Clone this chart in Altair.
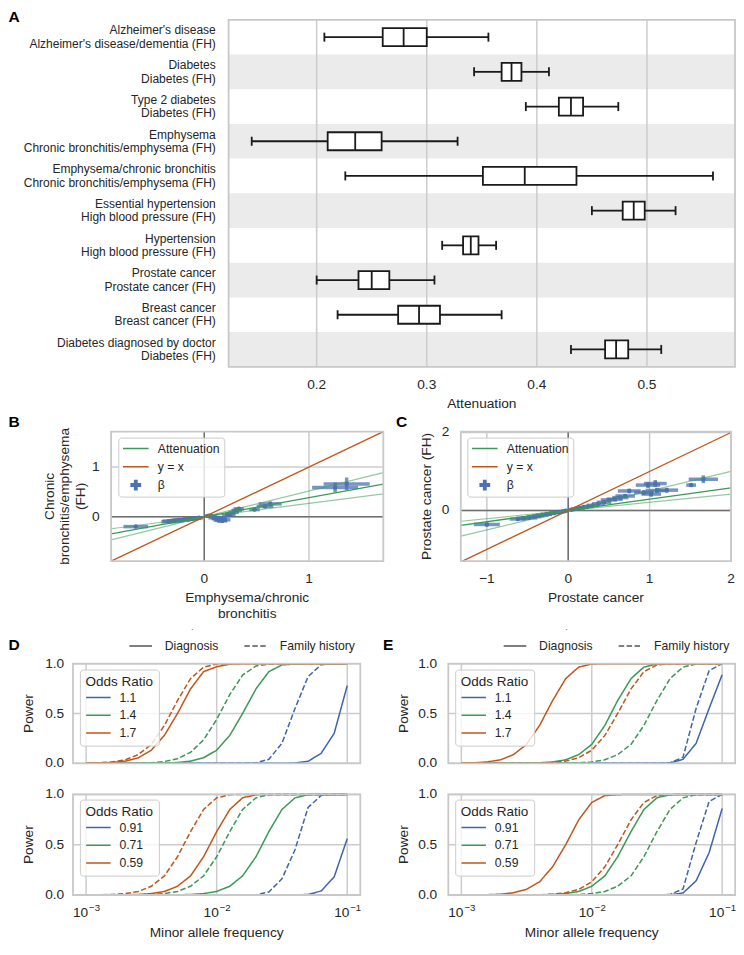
import altair as alt
import pandas as pd

# ===================== DATA =====================
# Panel A: attenuation per trait pair (whisker low, Q1, median, Q3, whisker high)
diag_names = ["Alzheimer's disease", "Diabetes", "Type 2 diabetes", "Emphysema",
              "Emphysema/chronic bronchitis", "Essential hypertension", "Hypertension",
              "Prostate cancer", "Breast cancer", "Diabetes diagnosed by doctor"]
fh_names = ["Alzheimer's disease/dementia (FH)", "Diabetes (FH)", "Diabetes (FH)",
            "Chronic bronchitis/emphysema (FH)", "Chronic bronchitis/emphysema (FH)",
            "High blood pressure (FH)", "High blood pressure (FH)", "Prostate cancer (FH)",
            "Breast cancer (FH)", "Diabetes (FH)"]
att_low = [0.207, 0.343, 0.390, 0.141, 0.226, 0.450, 0.314, 0.200, 0.219, 0.431]
att_q1 = [0.260, 0.368, 0.420, 0.210, 0.351, 0.478, 0.333, 0.238, 0.274, 0.462]
att_med = [0.279, 0.377, 0.431, 0.235, 0.389, 0.488, 0.340, 0.250, 0.293, 0.472]
att_q3 = [0.300, 0.386, 0.442, 0.259, 0.436, 0.498, 0.347, 0.266, 0.312, 0.483]
att_high = [0.356, 0.411, 0.474, 0.328, 0.560, 0.526, 0.363, 0.307, 0.368, 0.513]
att_ticks = [0.2, 0.3, 0.4, 0.5]

# Panel B: Emphysema/chronic bronchitis (x) vs Chronic bronchitis/emphysema (FH) (y)
b_beta_x = [-0.654, -0.34, -0.31, -0.28, -0.25, -0.22, -0.19, -0.15, -0.12, -0.08, -0.05,
            0.04, 0.07, 0.09, 0.12, 0.14, 0.17, 0.20, 0.16, 0.22, 0.25, 0.28, 0.31, 0.33,
            0.48, 0.58, 0.63, 1.25, 1.36]
b_beta_y = [-0.197, -0.10, -0.085, -0.08, -0.07, -0.065, -0.055, -0.05, -0.04, -0.03, -0.02,
            0.02, 0.01, -0.02, -0.04, -0.07, -0.08, -0.06, -0.03, 0.03, 0.05, 0.09, 0.13, 0.16,
            0.145, 0.21, 0.26, 0.59, 0.66]
b_err_x = [0.118, 0.07, 0.09, 0.08, 0.07, 0.08, 0.07, 0.06, 0.06, 0.05, 0.04,
           0.04, 0.05, 0.05, 0.05, 0.05, 0.05, 0.05, 0.05, 0.05, 0.05, 0.05, 0.05, 0.05,
           0.05, 0.08, 0.11, 0.22, 0.22]
b_err_y = [0.03, 0.03, 0.03, 0.03, 0.03, 0.03, 0.03, 0.025, 0.025, 0.02, 0.02,
           0.02, 0.03, 0.04, 0.05, 0.04, 0.04, 0.04, 0.03, 0.03, 0.03, 0.03, 0.04, 0.03,
           0.03, 0.04, 0.05, 0.10, 0.13]
b_slopes = [0.27, 0.385, 0.52]      # lower, median, upper attenuation
b_ticks_x = [0, 1]
b_ticks_y = [0, 1]

# Panel C: Prostate cancer (x) vs Prostate cancer (FH) (y)
c_beta_x = [-1.0, -0.62, -0.55, -0.48, -0.42, -0.37, -0.32, -0.27, -0.22, -0.17, -0.12, -0.07,
            -0.03, 0.04, 0.09, 0.14, 0.19, 0.24, 0.30, 0.37, 0.44, 0.50, 0.57, 0.64, 0.70,
            0.75, 0.98, 1.07, 1.02, 1.09, 1.21, 0.93, 1.51, 1.66]
c_beta_y = [-0.36, -0.22, -0.20, -0.19, -0.16, -0.14, -0.12, -0.10, -0.08, -0.06, -0.045, -0.03,
            -0.01, 0.02, 0.04, 0.06, 0.08, 0.10, 0.13, 0.17, 0.21, 0.27, 0.29, 0.33, 0.37,
            0.50, 0.65, 0.69, 0.42, 0.51, 0.52, 0.46, 0.65, 0.80]
c_err_x = [0.16, 0.10, 0.09, 0.10, 0.09, 0.08, 0.08, 0.07, 0.07, 0.06, 0.05, 0.05,
           0.04, 0.04, 0.05, 0.06, 0.06, 0.07, 0.07, 0.08, 0.09, 0.10, 0.10, 0.10, 0.12,
           0.14, 0.15, 0.14, 0.12, 0.14, 0.14, 0.12, 0.06, 0.18]
c_err_y = [0.05, 0.04, 0.04, 0.04, 0.04, 0.03, 0.03, 0.03, 0.03, 0.03, 0.02, 0.02,
           0.02, 0.02, 0.02, 0.03, 0.03, 0.03, 0.03, 0.04, 0.04, 0.04, 0.04, 0.05, 0.05,
           0.06, 0.08, 0.09, 0.07, 0.07, 0.06, 0.06, 0.05, 0.10]
c_slopes = [0.21, 0.29, 0.50]
c_ticks_x = [-1, 0, 1, 2]
c_ticks_y = [0, 2]

legend_labels = ["Attenuation", "y = x", "\u03b2"]

# Panels D / E: power vs minor allele frequency
maf_grid = [0.001, 0.00126, 0.00158, 0.002, 0.00251, 0.00316, 0.00398, 0.00501, 0.00631,
            0.00794, 0.01, 0.0126, 0.0158, 0.02, 0.0251, 0.0316, 0.0398, 0.0501, 0.0631,
            0.0794, 0.1]
maf_ticks = [0.001, 0.01, 0.1]
maf_tick_base = ["10", "10", "10"]
maf_tick_exp = ["\u22123", "\u22122", "\u22121"]
power_ticks = [0.0, 0.5, 1.0]
or_risk = ["1.1", "1.4", "1.7"]
or_prot = ["0.91", "0.71", "0.59"]
kinds = ["Diagnosis", "Family history"]

# D top (emphysema/chronic bronchitis, risk alleles)
dt_diag_11 = [0, 0, 0, 0, 0, 0, 0, 0, 0, 0, 0, 0, 0, 0, 0, 0, 0.003, 0.02, 0.1, 0.3, 0.78]
dt_fh_11 = [0, 0, 0, 0, 0, 0, 0, 0, 0, 0, 0, 0, 0, 0.005, 0.04, 0.2, 0.55, 0.87, 0.99, 1, 1]
dt_diag_14 = [0, 0, 0, 0, 0, 0.001, 0.003, 0.008, 0.022, 0.056, 0.131, 0.28, 0.5, 0.747, 0.92,
              0.988, 0.997, 1, 1, 1, 1]
dt_fh_14 = [0, 0, 0, 0.001, 0.002, 0.006, 0.018, 0.045, 0.11, 0.235, 0.44, 0.69, 0.885, 0.977,
            0.997, 1, 1, 1, 1, 1, 1]
dt_diag_17 = [0.001, 0.003, 0.008, 0.022, 0.056, 0.131, 0.28, 0.5, 0.747, 0.92, 0.97, 0.995,
              1, 1, 1, 1, 1, 1, 1, 1, 1]
dt_fh_17 = [0.002, 0.005, 0.014, 0.035, 0.087, 0.19, 0.38, 0.63, 0.85, 0.966, 0.997,
            1, 1, 1, 1, 1, 1, 1, 1, 1, 1]
# D bottom (protective alleles)
db_diag_091 = [0, 0, 0, 0, 0, 0, 0, 0, 0, 0, 0, 0, 0, 0, 0, 0, 0.001, 0.005, 0.04, 0.18, 0.56]
db_fh_091 = [0, 0, 0, 0, 0, 0, 0, 0, 0, 0, 0, 0, 0, 0.003, 0.03, 0.16, 0.45, 0.87, 0.99, 1, 1]
db_diag_071 = [0, 0, 0, 0, 0, 0, 0.001, 0.002, 0.005, 0.014, 0.035, 0.087, 0.19, 0.38, 0.63,
               0.85, 0.966, 0.997, 1, 1, 1]
db_fh_071 = [0, 0, 0, 0.001, 0.002, 0.005, 0.014, 0.035, 0.087, 0.19, 0.38, 0.63, 0.85, 0.966,
             0.997, 1, 1, 1, 1, 1, 1]
db_diag_059 = [0, 0, 0.001, 0.002, 0.005, 0.014, 0.035, 0.087, 0.19, 0.38, 0.63, 0.85, 0.966,
               0.997, 1, 1, 1, 1, 1, 1, 1]
db_fh_059 = [0.001, 0.002, 0.005, 0.014, 0.035, 0.087, 0.19, 0.38, 0.63, 0.85, 0.966, 0.997,
             1, 1, 1, 1, 1, 1, 1, 1, 1]
# E top (prostate cancer, risk alleles)
et_diag_11 = [0, 0, 0, 0, 0, 0, 0, 0, 0, 0, 0, 0, 0, 0, 0, 0, 0.003, 0.04, 0.2, 0.55, 0.89]
et_fh_11 = [0, 0, 0, 0, 0, 0, 0, 0, 0, 0, 0, 0, 0, 0, 0, 0, 0.005, 0.06, 0.55, 0.93, 1.0]
et_diag_14 = [0, 0, 0, 0, 0.001, 0.002, 0.005, 0.014, 0.035, 0.087, 0.19, 0.38, 0.63, 0.85,
              0.966, 0.997, 1, 1, 1, 1, 1]
et_fh_14 = [0, 0, 0, 0, 0, 0, 0, 0.001, 0.002, 0.005, 0.014, 0.035, 0.087, 0.19, 0.38, 0.63,
            0.85, 0.966, 0.997, 1, 1]
et_diag_17 = [0.002, 0.005, 0.014, 0.035, 0.087, 0.19, 0.38, 0.63, 0.85, 0.966, 0.997,
              1, 1, 1, 1, 1, 1, 1, 1, 1, 1]
et_fh_17 = [0, 0, 0, 0, 0, 0.001, 0.003, 0.008, 0.022, 0.056, 0.131, 0.28, 0.5, 0.747, 0.92,
            0.988, 0.997, 1, 1, 1, 1]
# E bottom (protective alleles)
eb_diag_091 = [0, 0, 0, 0, 0, 0, 0, 0, 0, 0, 0, 0, 0, 0, 0, 0, 0.002, 0.02, 0.14, 0.42, 0.86]
eb_fh_091 = [0, 0, 0, 0, 0, 0, 0, 0, 0, 0, 0, 0, 0, 0, 0, 0, 0.005, 0.06, 0.52, 0.93, 1.0]
eb_diag_071 = [0, 0, 0, 0, 0, 0.001, 0.002, 0.005, 0.014, 0.035, 0.087, 0.19, 0.38, 0.63, 0.85,
               0.966, 0.997, 1, 1, 1, 1]
eb_fh_071 = [0, 0, 0, 0, 0, 0, 0, 0.001, 0.002, 0.005, 0.014, 0.035, 0.087, 0.19, 0.38, 0.63,
             0.85, 0.966, 0.997, 1, 1]
eb_diag_059 = [0, 0.001, 0.003, 0.008, 0.022, 0.056, 0.131, 0.28, 0.5, 0.747, 0.92, 0.988,
               0.997, 1, 1, 1, 1, 1, 1, 1, 1]
eb_fh_059 = [0, 0, 0, 0, 0, 0.001, 0.003, 0.008, 0.022, 0.056, 0.131, 0.28, 0.5, 0.747, 0.92,
             0.988, 0.997, 1, 1, 1, 1]

# ===================== STYLE / LAYOUT =====================
W, H = 728, 934
FONT = "Liberation Sans"
TXT = "#262626"
GRID = "#cccccc"
FRAME = "#c8c8c8"
ZERO = "#707070"
SHADE = "#ebebeb"
BLUE = "#3f64ae"
GREEN = "#3a9a57"
ORANGE = "#c0561b"
PT_BLUE = "#4c72b0"
BOXC = "#1a1a1a"
FS = 13.7          # tick label / axis title size
LFS = 12.2         # legend label size
ROW_LH = 13.4      # line height of the two-line row labels

GEOM = {
    "A": dict(x=(220.6, 727.0), y=(11.8, 358.8)),
    "B": dict(x=(103.1, 375.3), y=(553.1, 423.7)),
    "C": dict(x=(452.8, 723.0), y=(553.1, 423.7)),
    "Dt": dict(x=(65.0, 352.3), y=(755.3, 655.7)),
    "Db": dict(x=(65.0, 352.3), y=(887.0, 786.4)),
    "Et": dict(x=(440.3, 727.2), y=(755.3, 655.7)),
    "Eb": dict(x=(440.3, 727.2), y=(887.0, 786.4)),
}
A_XDOM = [0.12, 0.58]
A_YDOM = [-0.5, 9.5]
B_DOM = [-0.89, 1.71]
C_XDOM = [-1.32, 2.0]
C_YDOM = [-1.3, 2.02]
MAF_DOM = [0.000794, 0.1259]
POW_DOM = [0.0, 1.0]
BOX_HALF = 0.26
CAP_HALF = 0.13


def lin(dom, rng):
    return alt.Scale(domain=dom, range=list(rng), nice=False, zero=False)


def xticks(vals, xs, ypix, fmt=None, labels=None, size=FS, dx=0, dy=0):
    df = pd.DataFrame({"v": vals})
    if labels is not None:
        df["lab"] = labels
        txt = alt.Text("lab:N")
    else:
        txt = alt.Text("v:Q", format=fmt)
    return alt.Chart(df).mark_text(align="center", baseline="middle", fontSize=size,
                                   color=TXT, dx=dx, dy=dy).encode(
        x=alt.X("v:Q", scale=xs, axis=None), y=alt.value(ypix), text=txt)


def yticks(vals, ys, xpix, fmt):
    df = pd.DataFrame({"v": vals})
    return alt.Chart(df).mark_text(align="right", baseline="middle", fontSize=FS,
                                   color=TXT).encode(
        y=alt.Y("v:Q", scale=ys, axis=None), x=alt.value(xpix),
        text=alt.Text("v:Q", format=fmt))


def title_text(txt, xpix, ypix, angle=0, line_height=None, size=FS, color=TXT):
    # for multi-line text the anchor is the centre of the FIRST line
    kw = dict(align="center", baseline="middle", fontSize=size, color=color, angle=angle,
              lineBreak="\n")
    if line_height is not None:
        kw["lineHeight"] = line_height
    return alt.Chart(pd.DataFrame({"t": [txt]})).mark_text(**kw).encode(
        text="t:N", x=alt.value(xpix), y=alt.value(ypix))


def grid_and_frame(xdom, ydom, xs, ys, gx, gy):
    vl = alt.Chart(pd.DataFrame({"g": gx})).transform_calculate(
        lo=str(ydom[0]), hi=str(ydom[1])
    ).mark_rule(color=GRID, strokeWidth=1.5).encode(
        x=alt.X("g:Q", scale=xs, axis=None), y=alt.Y("lo:Q", scale=ys, axis=None), y2="hi:Q")
    layers = [vl]
    if gy:
        hl = alt.Chart(pd.DataFrame({"g": gy})).transform_calculate(
            lo=str(xdom[0]), hi=str(xdom[1])
        ).mark_rule(color=GRID, strokeWidth=1.5).encode(
            y=alt.Y("g:Q", scale=ys, axis=None), x=alt.X("lo:Q", scale=xs, axis=None), x2="hi:Q")
        layers.append(hl)
    frame = alt.Chart(pd.DataFrame({"x0": [xdom[0]], "x1": [xdom[1]],
                                    "y0": [ydom[0]], "y1": [ydom[1]]})).mark_rect(
        fillOpacity=0, stroke=FRAME, strokeWidth=1.8).encode(
        x=alt.X("x0:Q", scale=xs, axis=None), x2="x1:Q",
        y=alt.Y("y0:Q", scale=ys, axis=None), y2="y1:Q")
    return layers, frame


# ===================== PANEL A =====================
ga = GEOM["A"]
axs = lin(A_XDOM, ga["x"])
ays = lin(A_YDOM, ga["y"])
a_df = pd.DataFrame({"idx": list(range(len(diag_names))), "low": att_low, "q1": att_q1,
                     "med": att_med, "q3": att_q3, "high": att_high,
                     "lab": [d + "\n" + f for d, f in zip(diag_names, fh_names)]})

shade = alt.Chart(a_df).transform_filter("datum.idx % 2 == 1").transform_calculate(
    y0="datum.idx - 0.5", y1="datum.idx + 0.5", x0=str(A_XDOM[0]), x1=str(A_XDOM[1])
).mark_rect(color=SHADE).encode(
    x=alt.X("x0:Q", scale=axs, axis=None), x2="x1:Q",
    y=alt.Y("y0:Q", scale=ays, axis=None), y2="y1:Q")
a_grid, a_frame = grid_and_frame(A_XDOM, A_YDOM, axs, ays, att_ticks, [])
a_base = alt.Chart(a_df)
whisk_lo = a_base.mark_rule(color=BOXC, strokeWidth=1.8).encode(
    x=alt.X("low:Q", scale=axs, axis=None), x2="q1:Q", y=alt.Y("idx:Q", scale=ays, axis=None))
whisk_hi = a_base.mark_rule(color=BOXC, strokeWidth=1.8).encode(
    x=alt.X("q3:Q", scale=axs, axis=None), x2="high:Q", y=alt.Y("idx:Q", scale=ays, axis=None))
boxes = a_base.transform_calculate(
    b0=f"datum.idx - {BOX_HALF}", b1=f"datum.idx + {BOX_HALF}"
).mark_rect(fill="white", stroke=BOXC, strokeWidth=1.8).encode(
    x=alt.X("q1:Q", scale=axs, axis=None), x2="q3:Q",
    y=alt.Y("b0:Q", scale=ays, axis=None), y2="b1:Q")
medians = a_base.transform_calculate(
    b0=f"datum.idx - {BOX_HALF}", b1=f"datum.idx + {BOX_HALF}"
).mark_rule(color=BOXC, strokeWidth=1.8).encode(
    x=alt.X("med:Q", scale=axs, axis=None), y=alt.Y("b0:Q", scale=ays, axis=None), y2="b1:Q")
cap_lo = a_base.transform_calculate(
    c0=f"datum.idx - {CAP_HALF}", c1=f"datum.idx + {CAP_HALF}"
).mark_rule(color=BOXC, strokeWidth=1.8).encode(
    x=alt.X("low:Q", scale=axs, axis=None), y=alt.Y("c0:Q", scale=ays, axis=None), y2="c1:Q")
cap_hi = a_base.transform_calculate(
    c0=f"datum.idx - {CAP_HALF}", c1=f"datum.idx + {CAP_HALF}"
).mark_rule(color=BOXC, strokeWidth=1.8).encode(
    x=alt.X("high:Q", scale=axs, axis=None), y=alt.Y("c0:Q", scale=ays, axis=None), y2="c1:Q")
row_text = a_base.mark_text(align="right", baseline="middle", fontSize=12, lineBreak="\n",
                            lineHeight=ROW_LH, dy=-ROW_LH / 2, color=TXT).encode(
    y=alt.Y("idx:Q", scale=ays, axis=None), x=alt.value(207.8), text="lab:N")
a_xt = xticks(att_ticks, axs, 376.5, fmt=".1f")
a_title = title_text("Attenuation", 473.8, 396.1)
panel_a = alt.layer(shade, *a_grid, whisk_lo, whisk_hi, boxes, medians, cap_lo, cap_hi,
                    a_frame, row_text, a_xt, a_title)

# ===================== PANELS B / C =====================
LINE_PATH = "M-1,-0.06H1V0.06H-1Z"
PLUS_PATH = "M-0.42,-0.15H-0.15V-0.42H0.15V-0.15H0.42V0.15H0.15V0.42H-0.15V0.15H-0.42Z"


def scatter_panel(key, px, py, pxe, pye, slopes, xdom, ydom, gx, gy, leg_xy, texts):
    g = GEOM[key]
    xs = lin(xdom, g["x"])
    ys = lin(ydom, g["y"])
    grids, frame = grid_and_frame(xdom, ydom, xs, ys, gx, gy)
    zv = alt.Chart(pd.DataFrame({"g": [0.0]})).transform_calculate(
        lo=str(ydom[0]), hi=str(ydom[1])).mark_rule(color=ZERO, strokeWidth=1.5).encode(
        x=alt.X("g:Q", scale=xs, axis=None), y=alt.Y("lo:Q", scale=ys, axis=None), y2="hi:Q")
    zh = alt.Chart(pd.DataFrame({"g": [0.0]})).transform_calculate(
        lo=str(xdom[0]), hi=str(xdom[1])).mark_rule(color=ZERO, strokeWidth=1.5).encode(
        y=alt.Y("g:Q", scale=ys, axis=None), x=alt.X("lo:Q", scale=xs, axis=None), x2="hi:Q")
    pts = pd.DataFrame({"x": px, "y": py, "xe": pxe, "ye": pye})
    ebx = alt.Chart(pts).transform_calculate(
        lo="datum.x - datum.xe", hi="datum.x + datum.xe").mark_rule(
        color=PT_BLUE, strokeWidth=3.5, opacity=0.75).encode(
        x=alt.X("lo:Q", scale=xs, axis=None), x2="hi:Q", y=alt.Y("y:Q", scale=ys, axis=None))
    eby = alt.Chart(pts).transform_calculate(
        lo="datum.y - datum.ye", hi="datum.y + datum.ye").mark_rule(
        color=PT_BLUE, strokeWidth=3.5, opacity=0.75).encode(
        y=alt.Y("lo:Q", scale=ys, axis=None), y2="hi:Q", x=alt.X("x:Q", scale=xs, axis=None))
    dots = alt.Chart(pts).mark_circle(size=20, color=PT_BLUE, opacity=1).encode(
        x=alt.X("x:Q", scale=xs, axis=None), y=alt.Y("y:Q", scale=ys, axis=None))
    ends = [xdom[0], xdom[1]]
    outer = pd.DataFrame({"s": [slopes[0], slopes[0], slopes[2], slopes[2]], "x": ends + ends})
    mid = pd.DataFrame({"s": [slopes[1], slopes[1]], "x": ends})
    att_outer = alt.Chart(outer).transform_calculate(y="datum.s * datum.x").mark_line(
        color=GREEN, strokeWidth=1.2, opacity=0.55).encode(
        x=alt.X("x:Q", scale=xs, axis=None), y=alt.Y("y:Q", scale=ys, axis=None), detail="s:N")
    att_mid = alt.Chart(mid).transform_calculate(y="datum.s * datum.x").mark_line(
        color=GREEN, strokeWidth=1.3).encode(
        x=alt.X("x:Q", scale=xs, axis=None), y=alt.Y("y:Q", scale=ys, axis=None))
    lo = max(xdom[0], ydom[0])
    hi = min(xdom[1], ydom[1])
    ident = alt.Chart(pd.DataFrame({"t": [lo, hi]})).mark_line(
        color=ORANGE, strokeWidth=1.3).encode(
        x=alt.X("t:Q", scale=xs, axis=None), y=alt.Y("t:Q", scale=ys, axis=None))
    leg = dict(orient="none", legendX=leg_xy[0], legendY=leg_xy[1], title=None, padding=4.5,
               fillColor="rgba(255,255,255,0.8)", strokeColor="#cccccc", cornerRadius=3,
               symbolSize=655, symbolOpacity=1, symbolStrokeWidth=0, labelFontSize=LFS,
               labelOffset=9, clipHeight=13, rowPadding=5.2, labelColor=TXT)
    proxy = alt.Chart(pd.DataFrame({"s": legend_labels, "x": 0.0, "y": 0.0})).mark_point(
        filled=True, opacity=0).encode(
        x=alt.X("x:Q", scale=xs, axis=None), y=alt.Y("y:Q", scale=ys, axis=None),
        color=alt.Color("s:N", scale=alt.Scale(domain=legend_labels,
                                               range=[GREEN, ORANGE, PT_BLUE]),
                        legend=alt.Legend(**leg)),
        shape=alt.Shape("s:N", scale=alt.Scale(domain=legend_labels,
                                               range=[LINE_PATH, LINE_PATH, PLUS_PATH]),
                        legend=alt.Legend(**leg)))
    xt = xticks(gx, xs, texts["xtick_y"], fmt="d")
    yt = yticks(gy, ys, texts["ytick_x"], fmt="d")
    return alt.layer(*grids, zv, zh, ebx, eby, dots, att_outer, att_mid, ident, frame, proxy,
                     xt, yt, *texts["titles"])


panel_b = scatter_panel(
    "B", b_beta_x, b_beta_y, b_err_x, b_err_y, b_slopes, B_DOM, B_DOM, b_ticks_x, b_ticks_y,
    (110.3, 429.6),
    dict(xtick_y=571.1, ytick_x=91.6,
         titles=[title_text("Emphysema/chronic\nbronchitis", 239.2, 589.8, line_height=16.7),
                 title_text("Chronic\nbronchitis/emphysema\n(FH)", 41.6, 488.4, angle=270,
                            line_height=15.5)]))
panel_c = scatter_panel(
    "C", c_beta_x, c_beta_y, c_err_x, c_err_y, c_slopes, C_XDOM, C_YDOM, c_ticks_x, c_ticks_y,
    (459.3, 429.6),
    dict(xtick_y=571.1, ytick_x=441.3,
         titles=[title_text("Prostate cancer", 587.9, 589.8),
                 title_text("Prostate cancer (FH)", 419.3, 488.4, angle=270)]))

# ===================== PANELS D / E =====================


def power_panel(key, series, or_dom, odds_xy, dash_xy, ytick_x, ytitle_x, show_x):
    g = GEOM[key]
    xs = alt.Scale(type="log", domain=MAF_DOM, range=list(g["x"]), nice=False)
    ys = lin(POW_DOM, g["y"])
    rows = []
    for orl, kind, vals in series:
        for m, p in zip(maf_grid, vals):
            rows.append({"maf": m, "power": p, "OR": orl, "kind": kind})
    df = pd.DataFrame(rows)
    grids, frame = grid_and_frame(MAF_DOM, POW_DOM, xs, ys, maf_ticks, power_ticks)
    color_leg = alt.Legend(orient="none", legendX=odds_xy[0], legendY=odds_xy[1],
                           title="Odds Ratio", titleFontSize=13.5, titleFontWeight="normal",
                           titlePadding=3, titleColor=TXT, padding=5.5,
                           fillColor="rgba(255,255,255,0.8)", strokeColor="#cccccc",
                           cornerRadius=3, symbolType="stroke", symbolSize=600,
                           symbolStrokeWidth=1.5, labelFontSize=LFS, labelOffset=8,
                           clipHeight=12, rowPadding=4.7, labelColor=TXT)
    if dash_xy is not None:
        dash_leg = alt.Legend(orient="none", legendX=dash_xy[0], legendY=dash_xy[1],
                              direction="horizontal", title=None, padding=0,
                              symbolType="stroke", symbolSize=511, symbolStrokeWidth=1.5,
                              symbolStrokeColor="#555555", labelFontSize=LFS, labelOffset=11.6,
                              columnPadding=24, clipHeight=12, labelColor=TXT)
    else:
        dash_leg = None
    lines = alt.Chart(df).mark_line(strokeWidth=1.5).encode(
        x=alt.X("maf:Q", scale=xs, axis=None),
        y=alt.Y("power:Q", scale=ys, axis=None),
        color=alt.Color("OR:N", scale=alt.Scale(domain=or_dom, range=[BLUE, GREEN, ORANGE]),
                        legend=color_leg),
        strokeDash=alt.StrokeDash("kind:N", scale=alt.Scale(domain=kinds,
                                                            range=[[1, 0], [5.5, 2.4]]),
                                  legend=dash_leg),
        order="maf:Q")
    yc = (g["y"][0] + g["y"][1]) / 2
    extra = [yticks(power_ticks, ys, ytick_x, ".1f"),
             title_text("Power", ytitle_x, yc, angle=270)]
    if show_x:
        # "10" with a raised, smaller exponent
        extra.append(xticks(maf_ticks, xs, 905.3, labels=maf_tick_base, dx=-5.5))
        extra.append(xticks(maf_ticks, xs, 900.0, labels=maf_tick_exp, size=9.6, dx=8.5))
        extra.append(title_text("Minor allele frequency", (g["x"][0] + g["x"][1]) / 2, 925.0))
    if dash_xy is not None:
        # the small stray dot printed above each legend row in the original figure
        extra.append(title_text(".", dash_xy[0] + 64.0, dash_xy[1] - 12.5, size=9,
                                color="#666666"))
    return alt.layer(*grids, lines, frame, *extra)


panel_dt = power_panel("Dt", [("1.1", "Diagnosis", dt_diag_11), ("1.1", "Family history", dt_fh_11),
                              ("1.4", "Diagnosis", dt_diag_14), ("1.4", "Family history", dt_fh_14),
                              ("1.7", "Diagnosis", dt_diag_17), ("1.7", "Family history", dt_fh_17)],
                       or_risk, (71.9, 661.6), (120.2, 631.7), 56.2, 20.7, False)
panel_db = power_panel("Db", [("0.91", "Diagnosis", db_diag_091), ("0.91", "Family history", db_fh_091),
                              ("0.71", "Diagnosis", db_diag_071), ("0.71", "Family history", db_fh_071),
                              ("0.59", "Diagnosis", db_diag_059), ("0.59", "Family history", db_fh_059)],
                       or_prot, (71.9, 791.6), None, 56.2, 20.7, True)
panel_et = power_panel("Et", [("1.1", "Diagnosis", et_diag_11), ("1.1", "Family history", et_fh_11),
                              ("1.4", "Diagnosis", et_diag_14), ("1.4", "Family history", et_fh_14),
                              ("1.7", "Diagnosis", et_diag_17), ("1.7", "Family history", et_fh_17)],
                       or_risk, (447.2, 661.6), (494.5, 631.7), 429.2, 396.0, False)
panel_eb = power_panel("Eb", [("0.91", "Diagnosis", eb_diag_091), ("0.91", "Family history", eb_fh_091),
                              ("0.71", "Diagnosis", eb_diag_071), ("0.71", "Family history", eb_fh_071),
                              ("0.59", "Diagnosis", eb_diag_059), ("0.59", "Family history", eb_fh_059)],
                       or_prot, (447.2, 791.6), None, 429.2, 396.0, True)

# ===================== PANEL LETTERS =====================
LETTER_POS = {"A": (0.5, 8.5), "B": (0.5, 414.0), "C": (388.0, 414.0),
              "D": (0.5, 637.0), "E": (375.0, 637.0)}
letters = []
for name, (lx, ly) in LETTER_POS.items():
    letters.append(alt.Chart(pd.DataFrame({"t": [name]})).mark_text(
        align="left", baseline="middle", fontSize=15.5, fontWeight="bold", color="#000000"
    ).encode(text="t:N", x=alt.value(lx), y=alt.value(ly)))

chart = alt.layer(
    panel_a, panel_b, panel_c, panel_dt, panel_db, panel_et, panel_eb, *letters
).resolve_scale(
    x="independent", y="independent", color="independent", shape="independent",
    strokeDash="independent"
).resolve_legend(
    color="independent", shape="independent", strokeDash="independent"
).properties(
    width=W, height=H, autosize=alt.AutoSizeParams(type="none"), padding=0
).configure(
    font=FONT
).configure_view(
    strokeWidth=0
).configure_legend(
    labelFont=FONT, titleFont=FONT
)

chart.save("out.html", embed_options={"renderer": "svg", "actions": False})
